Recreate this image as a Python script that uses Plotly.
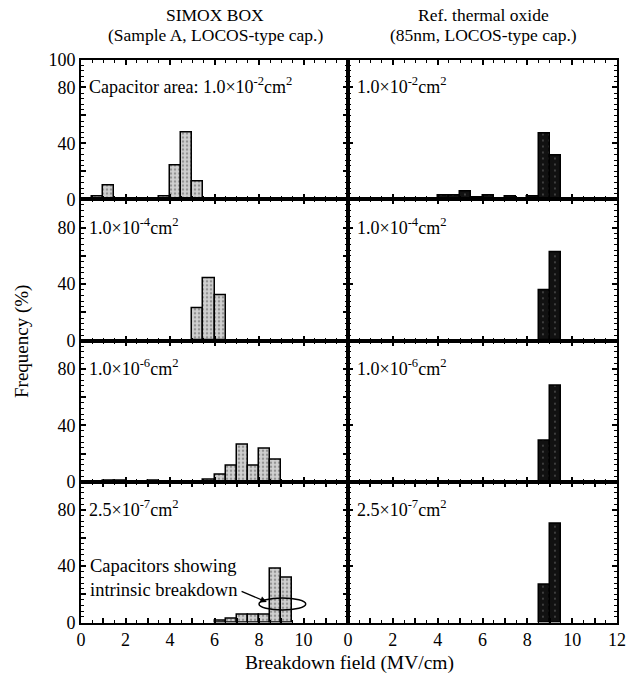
import plotly.graph_objects as go
from plotly.subplots import make_subplots

# ---------------- data (bin centres in MV/cm, frequency in %) ----------------
simox_1e2_x = [0.75, 1.25, 3.75, 4.25, 4.75, 5.25]
simox_1e2_f = [2, 10, 2, 24.5, 48, 13]

ref_1e2_x = [4.25, 4.75, 5.25, 5.75, 6.25, 7.25, 8.25, 8.75, 9.25]
ref_1e2_f = [3, 3, 5.5, 1, 3, 2, 2, 47, 31]

simox_1e4_x = [5.25, 5.75, 6.25]
simox_1e4_f = [23, 44, 32]

ref_1e4_x = [8.75, 9.25]
ref_1e4_f = [36, 62.5]

simox_1e6_x = [1.25, 1.75, 3.25, 5.75, 6.25, 6.75, 7.25, 7.75, 8.25, 8.75]
simox_1e6_f = [0.7, 0.7, 0.7, 1.2, 5, 11, 26.5, 11.3, 23.6, 15.3]

ref_1e6_x = [8.75, 9.25]
ref_1e6_f = [29, 68]

simox_25e7_x = [6.25, 6.75, 7.25, 7.75, 8.25, 8.75, 9.25]
simox_25e7_f = [1.2, 2.4, 5.2, 5.2, 5.2, 38.4, 32]

ref_25e7_x = [8.75, 9.25]
ref_25e7_f = [27, 70]

area_labels = ["1.0×10<sup>-2</sup>cm<sup>2</sup>", "1.0×10<sup>-4</sup>cm<sup>2</sup>",
               "1.0×10<sup>-6</sup>cm<sup>2</sup>", "2.5×10<sup>-7</sup>cm<sup>2</sup>"]
x_tickvals = list(range(0, 13))
x_ticktext_left = ["0", "", "2", "", "4", "", "6", "", "8", "", "10", "", ""]
x_ticktext_right = ["0", "", "2", "", "4", "", "6", "", "8", "", "10", "", "12"]
y_tickvals = [0, 20, 40, 60, 80, 100]
y_ticktext_top = ["0", "", "40", "", "80", "100"]
y_ticktext = ["0", "", "40", "", "80", ""]

# ---------------- figure ----------------
W, H = 632, 679
FONT = "Liberation Serif"
fig = make_subplots(rows=4, cols=2, horizontal_spacing=0, vertical_spacing=0)

left_style = dict(color="#d0d0d0",
                  pattern=dict(shape=".", fgcolor="#555555", size=4, solidity=0.3, fillmode="overlay"),
                  line=dict(color="black", width=1.5))
right_style = dict(color="#111111",
                   pattern=dict(shape=".", fgcolor="#888888", size=6, solidity=0.08, fillmode="overlay"),
                   line=dict(color="black", width=1.5))

panels = [
    (1, 1, simox_1e2_x, simox_1e2_f, left_style),
    (1, 2, ref_1e2_x, ref_1e2_f, right_style),
    (2, 1, simox_1e4_x, simox_1e4_f, left_style),
    (2, 2, ref_1e4_x, ref_1e4_f, right_style),
    (3, 1, simox_1e6_x, simox_1e6_f, left_style),
    (3, 2, ref_1e6_x, ref_1e6_f, right_style),
    (4, 1, simox_25e7_x, simox_25e7_f, left_style),
    (4, 2, ref_25e7_x, ref_25e7_f, right_style),
]
for r, c, xs, fs, st in panels:
    fig.add_trace(go.Bar(x=xs, y=fs, width=0.5, marker=st, showlegend=False), row=r, col=c)

# pixel geometry
col_px = [(81, 348), (348, 617)]
row_px = [(59.5, 199.3), (199.3, 340.7), (340.7, 481.7), (481.7, 622.5)]

for r in range(1, 5):
    for c in range(1, 3):
        idx = (r - 1) * 2 + c
        xa = "xaxis" if idx == 1 else f"xaxis{idx}"
        ya = "yaxis" if idx == 1 else f"yaxis{idx}"
        x0, x1 = col_px[c - 1]
        y0, y1 = row_px[r - 1]
        fig.layout[xa].update(
            domain=[x0 / W, x1 / W], range=[0, 12],
            showline=True, linecolor="black", linewidth=2, mirror="ticks",
            ticks="inside", ticklen=5, tickwidth=1.5, tickcolor="black",
            tickvals=x_tickvals,
            ticktext=x_ticktext_left if c == 1 else x_ticktext_right,
            showticklabels=(r == 4),
            tickfont=dict(family=FONT, size=18, color="black"),
            minor=dict(dtick=0.5, ticklen=3, tickwidth=1.2, tickcolor="black", ticks="inside"),
            showgrid=False, zeroline=False, fixedrange=True,
        )
        fig.layout[ya].update(
            domain=[1 - y1 / H, 1 - y0 / H], range=[0, 100],
            showline=True, linecolor="black", linewidth=2, mirror="ticks",
            ticks="inside", ticklen=5, tickwidth=1.5, tickcolor="black",
            tickvals=y_tickvals,
            ticktext=y_ticktext_top if r == 1 else y_ticktext,
            showticklabels=(c == 1),
            tickfont=dict(family=FONT, size=18, color="black"),
            minor=dict(dtick=4, ticklen=3, tickwidth=1.2, tickcolor="black", ticks="inside"),
            showgrid=False, zeroline=False, fixedrange=True,
        )

annotations = []
def px_ann(text, x, y, size=15, xanchor="left", yanchor="middle", **kw):
    annotations.append(dict(text=text, x=x / W, y=1 - y / H, xref="paper", yref="paper",
                            xanchor=xanchor, yanchor=yanchor, showarrow=False,
                            font=dict(family=FONT, size=size, color="black"), **kw))

# column titles
px_ann("SIMOX BOX", 215, 15, size=17.5, xanchor="center")
px_ann("(Sample A, LOCOS-type cap.)", 215, 35, size=17.5, xanchor="center")
px_ann("Ref. thermal oxide", 483, 15, size=17.5, xanchor="center")
px_ann("(85nm, LOCOS-type cap.)", 483, 35, size=17.5, xanchor="center")

# area labels
label_y = [85, 227, 367, 508]
for i, lab in enumerate(area_labels):
    left_text = ("Capacitor area: " + lab) if i == 0 else lab
    px_ann(left_text, 87, label_y[i], size=18)
    px_ann(lab, 355, label_y[i], size=18)

# axis titles
px_ann("Frequency (%)", 22, 342, size=19, xanchor="center", textangle=-90)
px_ann("Breakdown field (MV/cm)", 350, 663, size=19.5, xanchor="center")

# intrinsic breakdown annotation (bottom-left panel)
annotations.append(dict(text="Capacitors showing<br>intrinsic breakdown", x=0.3, y=31.5,
                        xref="x7", yref="y7", xanchor="left", yanchor="middle", align="left",
                        showarrow=False, font=dict(family=FONT, size=18.5, color="black")))
annotations.append(dict(text="", x=8.35, y=14.6, xref="x7", yref="y7",
                        ax=7.15, ay=22.5, axref="x7", ayref="y7",
                        showarrow=True, arrowhead=2, arrowsize=1, arrowwidth=1.3, arrowcolor="black"))

fig.add_shape(type="circle", xref="x7", yref="y7", x0=8.0, x1=10.1, y0=8.8, y1=17.4,
              line=dict(color="black", width=1.5))

fig.update_layout(
    width=W, height=H, margin=dict(l=0, r=0, t=0, b=0, autoexpand=False),
    plot_bgcolor="white", paper_bgcolor="white", bargap=0,
    annotations=annotations,
)

fig.write_html("out.html", config={"displayModeBar": False},
               post_script="document.body.style.margin='0px';")
